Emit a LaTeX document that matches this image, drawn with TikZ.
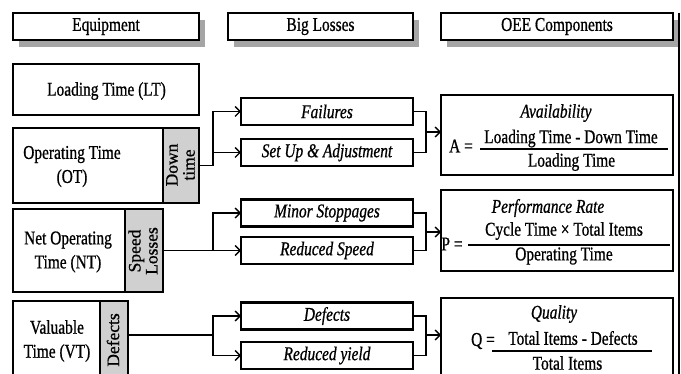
\documentclass[tikz,border=0pt]{standalone}
\usepackage{fontspec}
\setmainfont{Liberation Serif}[FakeStretch=0.79,FakeBold=0.8]
\newfontfamily\rotfont{Liberation Serif}[FakeBold=0.8]
\usetikzlibrary{arrows.meta,shadows,calc}
\definecolor{cellgray}{RGB}{208,208,208}
\definecolor{shadowgray}{RGB}{165,165,165}
\begin{document}
\begin{tikzpicture}[x=1pt,y=-1pt,
  every node/.style={inner sep=0pt, outer sep=0pt},
  txt/.style={font=\fontsize{19.5}{24}\selectfont, align=center},
  itxt/.style={font=\fontsize{19.5}{24}\selectfont\itshape, align=center},
  rtxt/.style={font=\rotfont\fontsize{17.5}{17}\selectfont, align=center, rotate=90},
  hdr/.style={draw, line width=1.6pt, fill=white, font=\fontsize{19.5}{24}\selectfont,
    general shadow={fill=shadowgray, shadow xshift=6pt, shadow yshift=-7pt}},
  ebox/.style={draw, line width=1.6pt, fill=white},
  cell/.style={draw, line width=1.6pt, fill=cellgray},
  lossbox/.style={draw, line width=2.4pt, fill=white, minimum width=172pt, minimum height=27pt,
    font=\fontsize{19.5}{24}\selectfont\itshape},
  oeebox/.style={draw, line width=1.6pt, fill=white, minimum width=232pt},
  conn/.style={line width=1.6pt},
  arr/.style={line width=1.6pt, -{Straight Barb[length=5pt, width=10pt, line width=1.4pt]}},
  bar/.style={line width=1.8pt},
]
\useasboundingbox (0,0) rectangle (681,374);
\clip (0,0) rectangle (681,374);
\fill[white] (0,0) rectangle (681,374);

% headers
\node[hdr, minimum width=186pt, minimum height=27pt] (h1) at (106,26.5) {Equipment};
\node[hdr, minimum width=185pt, minimum height=27pt] (h2) at (320.5,26.5) {Big Losses};
\node[hdr, minimum width=232pt, minimum height=27pt] (h3) at (557,26.5) {OEE Components};

% equipment column
\node[ebox, minimum width=186pt, minimum height=51pt] (LT) at (106,89.5) {};
\node[txt] (LTt) at (106.5,91) {Loading Time (LT)};

\node[ebox, minimum width=150pt, minimum height=75pt] (OT) at (88,165.5) {};
\node[cell, minimum width=36pt, minimum height=75pt] (OTc) at (181,165.5) {};
\node[txt] (OTt) at (72,166.5) {Operating Time\\(OT)};
\node[rtxt] (OTr) at (180.5,165) {Down\\time};

\node[ebox, minimum width=112pt, minimum height=83pt] (NT) at (69,250.5) {};
\node[cell, minimum width=38pt, minimum height=83pt] (NTc) at (144,250.5) {};
\node[txt] (NTt) at (68,252) {Net Operating\\Time (NT)};
\node[rtxt] (NTr) at (143,251) {Speed\\Losses};

\node[ebox, minimum width=87pt, minimum height=99pt] (VT) at (56.5,350.5) {};
\node[cell, minimum width=28pt, minimum height=99pt] (VTc) at (114,350.5) {};
\node[txt] (VTt) at (57,341) {Valuable\\Time (VT)};
\node[rtxt] (VTr) at (113,340) {Defects};

% big losses
\node[lossbox] (fail) at (327,111.5) {Failures};
\node[lossbox] (setup) at (327,152.5) {Set Up \& Adjustment};
\node[lossbox] (minor) at (327,213) {Minor Stoppages};
\node[lossbox] (rspeed) at (327,250.5) {Reduced Speed};
\node[lossbox] (defect) at (327,316) {Defects};
\node[lossbox] (ryield) at (327,355.5) {Reduced yield};

% OEE boxes
\node[oeebox, minimum height=80pt] (avail) at (557,135) {};
\node[oeebox, minimum height=81pt] (perf) at (557,230.5) {};
\node[oeebox, minimum height=102pt] (qual) at (557,349) {};

\node[itxt] (availt) at (556,113) {Availability};
\node[txt] (Aeq) at (461,146) {A =};
\node[txt] (Anum) at (571,138.5) {Loading Time - Down Time};
\node[txt] (Aden) at (571.5,162) {Loading Time};
\draw[bar] (480,149) -- (668,149);

\node[itxt] (perft) at (548,208) {Performance Rate};
\node[txt] (Peq) at (452,244) {P =};
\node[txt] (Pnum) at (564,231) {Cycle Time × Total Items};
\node[txt] (Pden) at (564,256) {Operating Time};
\draw[bar] (468,245) -- (670,245);

\node[itxt] (qualt) at (554,314) {Quality};
\node[txt] (Qeq) at (483,341) {Q =};
\node[txt] (Qnum) at (573,338) {Total Items - Defects};
\node[txt] (Qden) at (567.5,363) {Total Items};
\draw[bar] (492,351) -- (652,351);

% left connectors
\draw[arr] (OTc.east) -- ++(14,0) |- (fail.west);
\draw[arr] (OTc.east) -- ++(14,0) |- (setup.west);
\draw[arr] (NTc.east) -- ++(50,0) |- (minor.west);
\draw[arr] (NTc.east) -- (rspeed.west);
\draw[arr] (VTc.north east) ++(0,34) -- ++(85,0) |- (defect.west);
\draw[arr] (VTc.north east) ++(0,34) -- ++(85,0) |- (ryield.west);

% right connectors
\coordinate (m1) at (426,132);
\coordinate (m2) at (426,232);
\coordinate (m3) at (426,335);
\draw[conn] (fail.east) -| (m1) |- (setup.east);
\draw[arr] (m1) -- (avail.west |- m1);
\draw[conn] (minor.east) -| (m2) |- (rspeed.east);
\draw[arr] (m2) -- (perf.west |- m2);
\draw[conn] (defect.east) -| (m3) |- (ryield.east);
\draw[arr] (m3) -- (qual.west |- m3);

% right frame line
\coordinate (fr1) at (679,13);
\coordinate (fr2) at (679,380);
\draw[line width=1.5pt] (fr1) -- (fr2);
\end{tikzpicture}
\end{document}
